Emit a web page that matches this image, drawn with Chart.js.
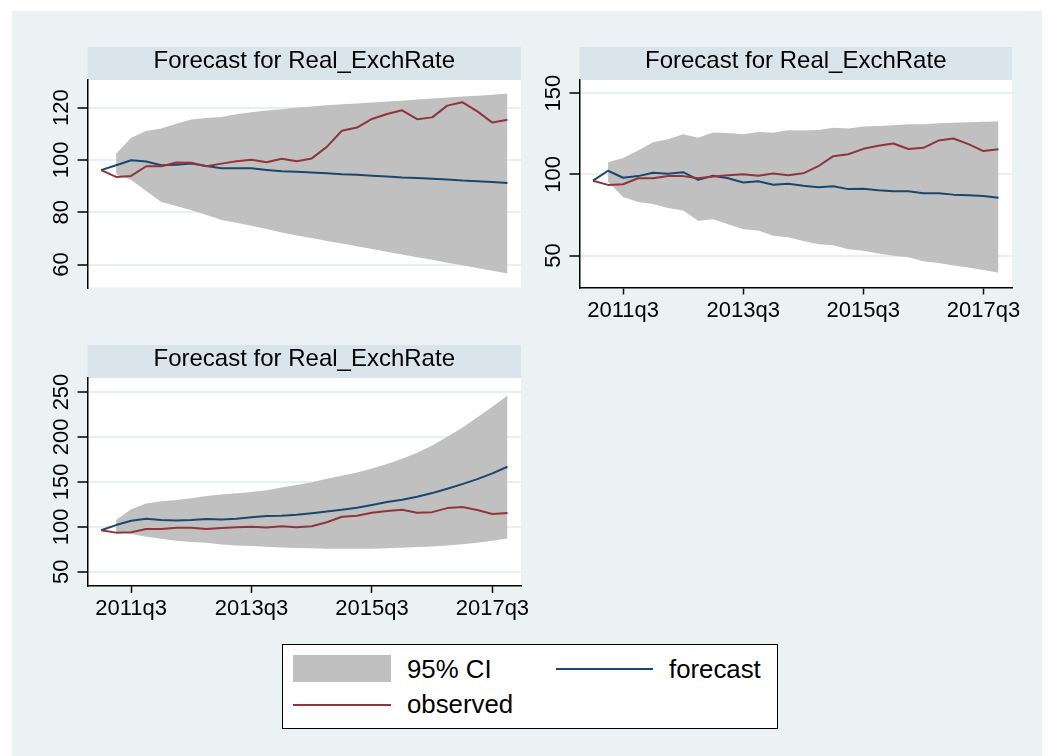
<!DOCTYPE html>
<html>
<head>
<meta charset="utf-8">
<script src="https://cdn.jsdelivr.net/npm/chart.js@4.4.1/dist/chart.umd.min.js"></script>
<style>
  body { margin: 0; background: #fff; font-family: "Liberation Sans", Arial, sans-serif; }
  #page { position: relative; width: 1054px; height: 756px; overflow: hidden; }
  #bg { position: absolute; left: 12px; top: 11px; width: 1030px; height: 745px; background: #eaf2f3; }
  canvas.panel { position: absolute; left: 0; top: 0; }
  #legend { position: absolute; left: 282px; top: 644px; width: 496px; height: 85px; box-sizing: border-box;
            border: 1px solid #000; background: #fff; }
  #legend .key { position: absolute; }
  #legend .txt { position: absolute; font-size: 25.8px; line-height: 26px; color: #000; white-space: nowrap; }
</style>
</head>
<body>
<div id="page">
  <div id="bg"></div>
  <canvas class="panel" id="p1" width="1054" height="756"></canvas>
  <canvas class="panel" id="p2" width="1054" height="756"></canvas>
  <canvas class="panel" id="p3" width="1054" height="756"></canvas>
  <div id="legend">
    <div class="key" style="left:10px;top:10px;width:98px;height:27px;background:#c0c0c0"></div>
    <div class="txt" style="left:124px;top:11px">95% CI</div>
    <div class="key" style="left:273px;top:23px;width:97px;height:2px;background:#1a476f"></div>
    <div class="txt" style="left:386px;top:11px">forecast</div>
    <div class="key" style="left:10px;top:59px;width:98px;height:2px;background:#90353b"></div>
    <div class="txt" style="left:124px;top:46px">observed</div>
  </div>
</div>
<script>
const quarters = [
  '2011q1', '2011q2', '2011q3', '2011q4', '2012q1', '2012q2', '2012q3', '2012q4',
  '2013q1', '2013q2', '2013q3', '2013q4', '2014q1', '2014q2', '2014q3', '2014q4',
  '2015q1', '2015q2', '2015q3', '2015q4', '2016q1', '2016q2', '2016q3', '2016q4',
  '2017q1', '2017q2', '2017q3', '2017q4'
];
const xTickLabels = ['2011q3', '2013q3', '2015q3', '2017q3'];

const observed = [96.1, 93.5, 93.9, 97.6, 97.6, 99.0, 98.9, 97.6, 98.6, 99.5, 100.1, 99.1, 100.5, 99.5,
  100.6, 105.0, 111.2, 112.4, 115.7, 117.6, 119.0, 115.6, 116.3, 120.8, 122.1, 118.6, 114.3, 115.4];

// model 1
const forecast1 = [96.1, 98.0, 99.9, 99.4, 98.0, 98.2, 98.6, 97.7, 96.8, 96.8, 96.8, 96.2, 95.7, 95.5,
  95.2, 94.9, 94.5, 94.3, 94.0, 93.7, 93.3, 93.1, 92.8, 92.5, 92.1, 91.9, 91.6, 91.2];
const upper1 = [null, 102.4, 108.5, 111.1, 112.0, 113.9, 115.5, 116.1, 116.4, 117.5, 118.3, 118.9, 119.4, 120.1,
  120.5, 120.9, 121.3, 121.6, 122.0, 122.4, 122.7, 123.1, 123.5, 123.9, 124.3, 124.6, 125.0, 125.4];
const lower1 = [null, 94.5, 92.3, 88.1, 83.9, 82.4, 80.8, 78.9, 77.0, 76.0, 74.8, 73.6, 72.2, 71.1,
  70.1, 69.0, 68.0, 67.0, 65.9, 64.9, 63.8, 62.8, 61.8, 60.7, 59.7, 58.7, 57.6, 56.6];

// model 2
const forecast2 = [96.1, 102.2, 97.9, 98.9, 101.0, 100.3, 101.3, 96.6, 99.1, 97.6, 95.0, 95.8, 93.6, 94.2,
  92.9, 92.0, 92.7, 90.9, 91.1, 90.2, 89.6, 89.6, 88.3, 88.3, 87.5, 87.1, 86.6, 85.6];
const upper2 = [null, 107.4, 110.0, 114.7, 119.8, 121.6, 124.7, 122.5, 125.8, 125.5, 124.7, 126.1, 125.6, 127.1,
  127.0, 127.3, 128.7, 128.3, 129.5, 129.7, 130.3, 130.8, 130.8, 131.5, 131.7, 132.1, 132.4, 132.5];
const lower2 = [null, 95.5, 86.0, 83.0, 81.8, 79.3, 77.8, 71.4, 72.3, 69.3, 66.1, 65.4, 62.2, 61.3,
  58.9, 56.9, 56.3, 53.9, 53.0, 51.2, 49.9, 48.9, 46.4, 45.4, 43.9, 42.6, 41.1, 39.4];

// model 3
const forecast3 = [96.1, 101.9, 106.7, 108.9, 107.5, 106.9, 107.5, 108.6, 108.2, 108.9, 110.5, 111.9, 112.2, 113.4,
  115.2, 117.1, 118.9, 121.1, 124.2, 127.5, 130.1, 133.4, 137.5, 142.3, 147.5, 153.1, 159.4, 166.8];
const upper3 = [null, 107.5, 119.4, 126.0, 128.3, 129.7, 131.9, 134.2, 136.0, 137.2, 138.6, 140.8, 143.8, 146.4,
  149.7, 153.4, 156.8, 160.5, 165.0, 169.8, 175.7, 182.4, 190.6, 200.2, 210.2, 221.8, 233.6, 246.0];
const lower3 = [null, 94.4, 91.9, 88.9, 86.6, 84.4, 83.0, 82.2, 80.4, 79.3, 78.5, 77.7, 77.0, 76.3,
  76.0, 75.5, 75.5, 75.5, 75.5, 76.0, 76.6, 77.4, 78.2, 79.3, 80.7, 82.2, 84.4, 87.1];

const yTicks1 = [60, 80, 100, 120];
const yTicks2 = [50, 100, 150];
const yTicks3 = [50, 100, 150, 200, 250];

const TITLE = 'Forecast for Real_ExchRate';
const RED = '#90353b';
const BLUE = '#1a476f';
const CI_GREY = '#c0c0c0';
const BAND = '#d9e5ea';
const GRID = '#e8f0f2';
const FONT = '"Liberation Sans", Arial, sans-serif';

// white plot region, title strip and the tick labels around it
const stataFrame = {
  id: 'stataFrame',
  beforeDraw(chart, args, opts) {
    const { ctx, chartArea: a } = chart;
    ctx.save();
    ctx.fillStyle = '#fff';
    ctx.fillRect(a.left, a.top, a.right - a.left, a.bottom - a.top);
    ctx.fillStyle = BAND;
    ctx.fillRect(a.left, a.top - 33, a.right - a.left, 33);

    ctx.fillStyle = '#000';
    ctx.textAlign = 'center';
    ctx.textBaseline = 'alphabetic';
    ctx.font = '24px ' + FONT;
    ctx.fillText(opts.title, (a.left + a.right) / 2, a.top - 12.5);

    ctx.font = '22px ' + FONT;
    const ys = chart.scales.y;
    ys.ticks.forEach(t => {
      ctx.save();
      ctx.translate(a.left - 19.5, ys.getPixelForValue(t.value));
      ctx.rotate(-Math.PI / 2);
      ctx.fillText(String(t.value), 0, 0);
      ctx.restore();
    });

    if (opts.showX) {
      const xs = chart.scales.x;
      xs.ticks.forEach(t => {
        ctx.fillText(quarters[t.value], xs.getPixelForValue(t.value), a.bottom + 29.2);
      });
    }
    ctx.restore();
  }
};

const pts = arr => arr.map((y, i) => ({ x: i, y }));

function makePanel(id, box, fc, up, lo, yMin, yMax, yTicks, showX) {
  const xAxisH = showX ? 7 : 0;
  return new Chart(document.getElementById(id), {
    type: 'line',
    data: {
      datasets: [
        { label: 'observed', data: pts(observed), borderColor: RED, borderWidth: 2,
          borderJoinStyle: 'round', pointRadius: 0, fill: false },
        { label: 'forecast', data: pts(fc), borderColor: BLUE, borderWidth: 2,
          borderJoinStyle: 'round', pointRadius: 0, fill: false },
        { label: '95% CI', data: pts(up), borderColor: 'rgba(0,0,0,0)', borderWidth: 0,
          backgroundColor: CI_GREY, pointRadius: 0, fill: '+1' },
        { label: 'lower', data: pts(lo), borderColor: 'rgba(0,0,0,0)', borderWidth: 0,
          pointRadius: 0, fill: false }
      ]
    },
    options: {
      responsive: false,
      animation: false,
      events: [],
      layout: {
        padding: { left: box.left - 10, top: box.top, right: 1054 - box.right, bottom: 756 - box.bottom - xAxisH }
      },
      scales: {
        x: {
          type: 'linear',
          display: showX,
          min: -0.9,
          max: 27.9,
          afterBuildTicks: s => { s.ticks = xTickLabels.map(l => ({ value: quarters.indexOf(l) })); },
          afterFit: s => { s.height = xAxisH; },
          ticks: { display: false },
          grid: { drawOnChartArea: false, drawTicks: true, tickLength: 7, tickColor: '#000', tickWidth: 1.5 },
          border: { display: true, color: '#000', width: 1.5 }
        },
        y: {
          type: 'linear',
          min: yMin,
          max: yMax,
          afterBuildTicks: s => { s.ticks = yTicks.map(v => ({ value: v })); },
          afterFit: s => { s.width = 10; },
          ticks: { display: false },
          grid: { color: GRID, lineWidth: 2, drawTicks: true, tickLength: 10, tickColor: '#000', tickWidth: 1.5 },
          border: { display: true, color: '#000', width: 1.5 }
        }
      },
      plugins: {
        legend: { display: false },
        tooltip: { enabled: false },
        stataFrame: { title: TITLE, showX }
      }
    },
    plugins: [stataFrame]
  });
}

makePanel('p1', { left: 87.5, top: 80, right: 521, bottom: 287.5 }, forecast1, upper1, lower1, 51.2, 130.6, yTicks1, false);
makePanel('p2', { left: 579.5, top: 80, right: 1012, bottom: 287.5 }, forecast2, upper2, lower2, 30.3, 158.1, yTicks2, true);
makePanel('p3', { left: 87.5, top: 378, right: 521, bottom: 586 }, forecast3, upper3, lower3, 34.1, 265.6, yTicks3, true);
</script>
</body>
</html>
